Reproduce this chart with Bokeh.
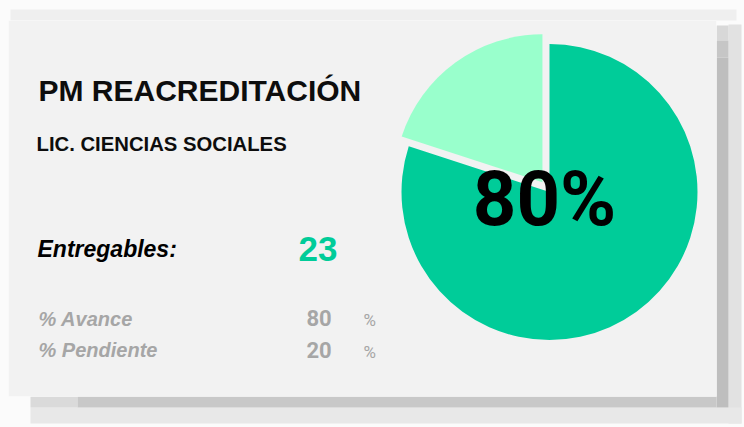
import math
from bokeh.plotting import figure
from bokeh.models import Range1d, BoxAnnotation, ColumnDataSource
from bokeh.core.properties import value
from bokeh.embed import file_html
from bokeh.resources import INLINE

# ---- data ----
slice_names = ["Avance", "Pendiente"]
slice_values = [80, 20]
slice_colors = ["#00CC99", "#99FFCC"]
slice_explode = [0, 12]
title_text = "PM REACREDITACIÓN"
subtitle_text = "LIC. CIENCIAS SOCIALES"
entregables_label = "Entregables:"
entregables_value = 23
row_labels = ["% Avance", "% Pendiente"]

W, H = 744, 427
def Y(py):
    return 427 - py

p = figure(width=W, height=H, x_range=Range1d(0, W), y_range=Range1d(0, H),
           output_backend="svg", toolbar_location=None, x_axis_type=None, y_axis_type=None,
           min_border=0, outline_line_color=None,
           background_fill_color="#fbfbfb", border_fill_color="#fbfbfb")
p.xgrid.visible = False
p.ygrid.visible = False

def box(l, r, t, b, color, line=None):
    p.add_layout(BoxAnnotation(left=l, right=r, top=Y(t), bottom=Y(b), fill_color=color,
                               fill_alpha=1, line_color=line, line_width=1, level="underlay"))

# shadow bands
box(10, 736, 9, 20, "#efefef")
box(728, 741, 24, 423, "#e2e2e2")
box(30, 741, 407, 423, "#e8e8e8")
box(716, 728, 25, 40, "#d8d8d8")
box(716, 728, 40, 57, "#c6c6c6")
box(716, 728, 57, 407, "#bebebe")
box(30, 77, 396, 407, "#dadada")
box(77, 716, 396, 407, "#c8c8c8")
# card
box(8, 716, 20, 396, "#f2f2f2", line="#ffffff")

# ---- pie ----
total = sum(slice_values)
cx, cy, r = 549, Y(191.5), 148
starts, ends, xs, ys = [], [], [], []
cum = 0
for v, e in zip(slice_values, slice_explode):
    a_end = math.pi / 2 - 2 * math.pi * cum / total
    cum += v
    a_start = math.pi / 2 - 2 * math.pi * cum / total
    mid = (a_start + a_end) / 2
    starts.append(a_start)
    ends.append(a_end)
    xs.append(cx + e * math.cos(mid))
    ys.append(cy + e * math.sin(mid))
src = ColumnDataSource(dict(x=xs, y=ys, start=starts, end=ends, color=slice_colors, name=slice_names))
p.wedge(x="x", y="y", radius=r, start_angle="start", end_angle="end", direction="anticlock",
        fill_color="color", line_color=None, source=src)

def ty(py, size, k=0.3):
    # compensate for the svg text offset so the glyph baseline sits at page y = py
    return Y(py - k * size)

pct = round(100 * slice_values[0] / total)
p.text(x=[544], y=[ty(224, 76, 0.34)], text=[f"{pct}%"], text_font=value("Roboto"), text_font_style="bold",
       text_font_size="76px", text_color="#000000", text_align="center", text_baseline="alphabetic")

# ---- texts ----
arial = value("Liberation Sans")
p.text(x=[38], y=[ty(99, 30)], text=[title_text], text_font=arial, text_font_style="bold",
       text_font_size="30px", text_color="#0d0d0d", text_baseline="alphabetic")
p.text(x=[36], y=[ty(150, 20.3)], text=[subtitle_text], text_font=arial, text_font_style="bold",
       text_font_size="20.3px", text_color="#0d0d0d", text_baseline="alphabetic")
p.text(x=[37], y=[ty(255, 23)], text=[entregables_label], text_font=arial, text_font_style="bold italic",
       text_font_size="23px", text_color="#000000", text_baseline="alphabetic")
p.text(x=[298], y=[ty(259, 35)], text=[str(entregables_value)], text_font=arial, text_font_style="bold",
       text_font_size="35px", text_color="#00CC99", text_baseline="alphabetic")

p.text(x=[38, 38], y=[ty(324.5, 20), ty(355.5, 20)], text=row_labels, text_font=arial,
       text_font_style="bold italic", text_font_size="20px", text_color="#a6a6a6",
       text_baseline="alphabetic")
pcts = [round(100 * v / total) for v in slice_values]
p.text(x=[318.5, 318.5], y=[ty(325, 22, 0.34), ty(357, 22, 0.34)], text=[str(v) for v in pcts],
       text_font=value("Roboto"), text_font_style="bold", text_font_size="22px", text_color="#a6a6a6",
       text_align="center", text_baseline="alphabetic")
p.text(x=[363, 363], y=[ty(325, 17, 0.34), ty(357, 17, 0.34)], text=["%", "%"], text_font=value("Roboto"),
       text_font_size="17px", text_color="#a6a6a6", text_baseline="alphabetic")

html = file_html(p, INLINE)
html = html.replace("</head>", "<style>html,body{background:#fbfbfb;}</style></head>", 1)
open("out.html", "w").write(html)
